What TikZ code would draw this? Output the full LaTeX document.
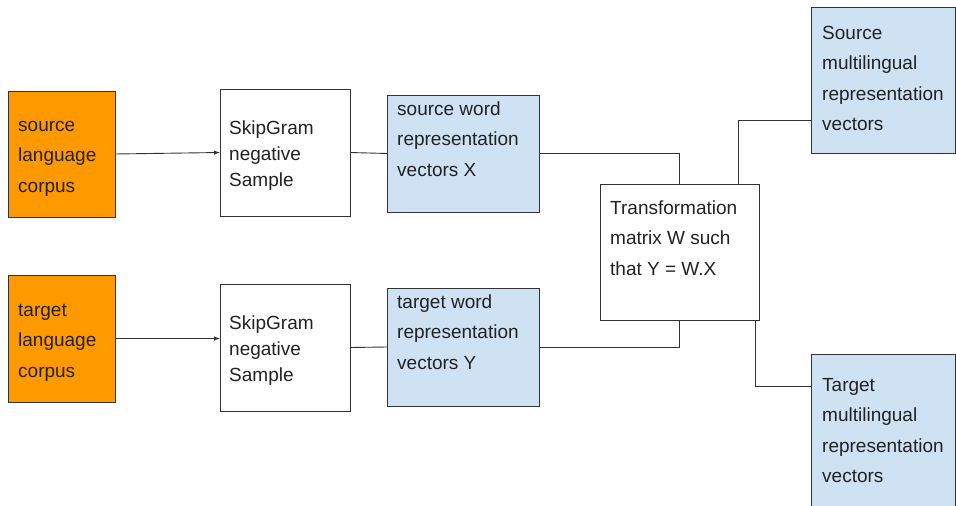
\documentclass[tikz,border=0pt]{standalone}
\usepackage{fontspec}
\setmainfont{Liberation Sans}
\usetikzlibrary{arrows.meta}
\definecolor{orangec}{HTML}{FF9900}
\definecolor{bluec}{HTML}{CFE2F3}
\definecolor{linec}{HTML}{333333}
\definecolor{textc}{HTML}{222222}
\begin{document}
\begin{tikzpicture}[x=1pt,y=-1pt,
  box/.style={draw=linec, line width=1pt, inner sep=0pt, outer sep=0pt},
  txt/.style={anchor=base west, inner sep=0pt, align=left, text=textc, font=\fontsize{19}{30.5}\selectfont},
  txtt/.style={txt, font=\fontsize{19}{26}\selectfont},
  conn/.style={draw=linec, line width=0.9pt},
  arr/.style={conn, -{Latex[length=6pt,width=4.5pt]}}]
\clip (0,0) rectangle (956,506);
\fill[white] (0,0) rectangle (956,506);
% boxes
\node[box, fill=orangec, minimum width=107pt, minimum height=126pt] (sc) at (61.5,154) {};
\node[box, fill=orangec, minimum width=107pt, minimum height=127pt] (tc) at (61.5,338.5) {};
\node[box, fill=white, minimum width=130pt, minimum height=127pt] (sg1) at (285,152.5) {};
\node[box, fill=white, minimum width=130pt, minimum height=127pt] (sg2) at (285,347.5) {};
\node[box, fill=bluec, minimum width=152pt, minimum height=117pt] (sw) at (463,153.5) {};
\node[box, fill=bluec, minimum width=152pt, minimum height=118pt] (tw) at (463,347) {};
\node[box, fill=white, minimum width=159pt, minimum height=136pt] (tm) at (679.5,252) {};
\node[box, fill=bluec, minimum width=144pt, minimum height=146pt] (sm) at (883,80) {};
\node[box, fill=bluec, minimum width=144pt, minimum height=170pt] (tgm) at (883,439) {};
% texts (anchored at the baseline of the last line)
\node[txt] (sct) at (18,192) {source\\language\\corpus};
\node[txt] (tct) at (18,377) {target\\language\\corpus};
\node[txtt] (sg1t) at (229,186) {SkipGram\\negative\\Sample};
\node[txtt] (sg2t) at (229,381) {SkipGram\\negative\\Sample};
\node[txt] (swt) at (397,176) {source word\\representation\\vectors X};
\node[txt] (twt) at (397,369) {target word\\representation\\vectors Y};
\node[txt] (tmt) at (610,275) {Transformation\\matrix W such\\that Y = W.X};
\node[txt] (smt) at (822,130.5) {Source\\multilingual\\representation\\vectors};
\node[txt] (tgmt) at (822,482.5) {Target\\multilingual\\representation\\vectors};
% connectors
\coordinate (c1) at (738,120);
\coordinate (c2) at (755,386);
\draw[arr] (sc.east) -- (sg1.west);
\draw[arr] (tc.east) -- (tc.east -| sg2.west);
\draw[conn] (sg1.east) -- (sw.west);
\draw[conn] (sg2.east) -- (tw.west);
\draw[conn] (sw.east) -| (tm.north);
\draw[conn] (tw.east) -| (tm.south);
\draw[conn] (c1 |- tm.north) -- (c1) -- (c1 -| sm.west);
\draw[conn] (c2 |- tm.south) -- (c2) -- (c2 -| tgm.west);
\end{tikzpicture}
\end{document}
